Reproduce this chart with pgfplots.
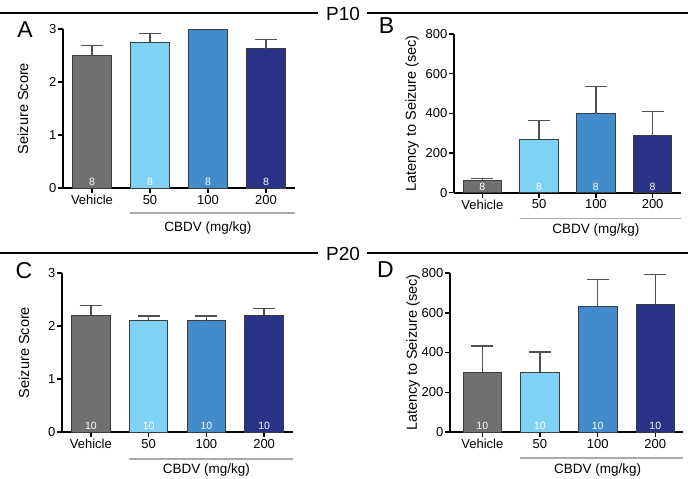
\documentclass[border=0pt]{standalone}
\usepackage{pgfplots}
\pgfplotsset{compat=1.18}
\usepackage{fontspec}
\setmainfont{Liberation Sans}
\definecolor{cveh}{RGB}{112,112,114}
\definecolor{cfifty}{RGB}{126,210,246}
\definecolor{chund}{RGB}{66,140,204}
\definecolor{ctwo}{RGB}{42,51,135}
\definecolor{errc}{RGB}{80,80,80}
\definecolor{edgec}{RGB}{60,60,60}
\definecolor{bracketc}{RGB}{170,170,170}
\pgfplotsset{
 panel/.style={
  scale only axis, axis lines=left,
  axis line style={-, line width=1.8pt, black},
  xmin=-0.5, xmax=3.5, ymin=0,
  xtick={0,1,2,3}, xticklabels={Vehicle,50,100,200},
  tick align=outside, major tick length=5pt,
  tick style={black, line width=1.5pt},
  /pgf/number format/assume math mode=true,
  ticklabel style={font=\fontsize{13}{15}\selectfont},
  yticklabel style={inner xsep=1.5pt},
  xticklabel style={inner ysep=2pt},
  clip=false,
 },
 mybar/.style={ybar, bar width=38.5pt, bar shift=0pt, draw=edgec, line width=0.8pt, fill=#1,
  error bars/y dir=plus, error bars/y explicit,
  error bars/error bar style={errc, line width=1.3pt},
  error bars/error mark options={rotate=90, errc, line width=1.3pt, mark size=11pt}},
}
\newcommand{\nlab}[1]{\pgfplotsinvokeforeach{0,...,3}{\node[white, font=\fontsize{10.5}{11}\selectfont, anchor=south, inner sep=1pt, yshift=1pt] at (axis cs:##1,0) {#1};}}
\newcommand{\cbdv}[2]{%
 \draw[bracketc, line width=1.2pt] ([yshift=-#1]axis cs:0.66,0) -- ([yshift=-#1]rel axis cs:1,0);
 \node[font=\fontsize{13.5}{15}\selectfont] at ([yshift=-#2]axis cs:2,0) {CBDV (mg/kg)};}
\begin{document}
\begin{tikzpicture}
\useasboundingbox (0,0) rectangle (688pt,-479pt);
% headers
\draw[line width=1.2pt] (0,-13pt) -- (318pt,-13pt);
\draw[line width=1.2pt] (367pt,-13pt) -- (688pt,-13pt);
\node[font=\fontsize{19}{21}\selectfont] at (343pt,-13.5pt) {P10};
\draw[line width=1.2pt] (0,-253pt) -- (318pt,-253pt);
\draw[line width=1.2pt] (367pt,-253pt) -- (688pt,-253pt);
\node[font=\fontsize{19}{21}\selectfont] at (343pt,-253.5pt) {P20};
% letters
\node[font=\fontsize{23}{25}\selectfont] at (25pt,-29.5pt) {A};
\node[font=\fontsize{23}{25}\selectfont] at (386.5pt,-26pt) {B};
\node[font=\fontsize{23}{25}\selectfont] at (24pt,-270.5pt) {C};
\node[font=\fontsize{23}{25}\selectfont] at (385.5pt,-269.5pt) {D};

% Panel A
\begin{axis}[panel, at={(63pt,-188pt)}, anchor=south west, width=232pt, height=159pt,
  ymax=3, ytick={0,1,2,3}]
\addplot[mybar=cveh] coordinates {(0,2.5) +- (0,0.19)};
\addplot[mybar=cfifty] coordinates {(1,2.75) +- (0,0.17)};
\addplot[mybar=chund, error bars/y dir=none] coordinates {(2,3.0)};
\addplot[mybar=ctwo] coordinates {(3,2.625) +- (0,0.18)};
\nlab{8}
\cbdv{25pt}{40pt}
\node[rotate=90, font=\fontsize{14.5}{16}\selectfont] at ([xshift=-40pt]rel axis cs:0,0.5) {Seizure Score};
\end{axis}

% Panel B
\begin{axis}[panel, at={(454pt,-192.7pt)}, anchor=south west, width=227pt, height=158.7pt,
  ymax=800, ytick={0,200,400,600,800}]
\addplot[mybar=cveh] coordinates {(0,62) +- (0,10)};
\addplot[mybar=cfifty] coordinates {(1,269) +- (0,94)};
\addplot[mybar=chund] coordinates {(2,398) +- (0,136)};
\addplot[mybar=ctwo] coordinates {(3,289) +- (0,119)};
\nlab{8}
\cbdv{26pt}{37.5pt}
\node[rotate=90, font=\fontsize{14.5}{16}\selectfont] at ([xshift=-42pt]rel axis cs:0,0.5) {Latency to Seizure (sec)};
\end{axis}

% Panel C
\begin{axis}[panel, at={(62pt,-432pt)}, anchor=south west, width=231pt, height=159pt,
  ymax=3, ytick={0,1,2,3}]
\addplot[mybar=cveh] coordinates {(0,2.2) +- (0,0.19)};
\addplot[mybar=cfifty] coordinates {(1,2.1) +- (0,0.09)};
\addplot[mybar=chund] coordinates {(2,2.1) +- (0,0.09)};
\addplot[mybar=ctwo] coordinates {(3,2.2) +- (0,0.13)};
\nlab{10}
\cbdv{27pt}{38pt}
\node[rotate=90, font=\fontsize{14.5}{16}\selectfont] at ([xshift=-38pt]rel axis cs:0,0.5) {Seizure Score};
\end{axis}

% Panel D
\begin{axis}[panel, at={(450pt,-432pt)}, anchor=south west, width=233pt, height=159pt,
  xmin=-0.56, xmax=3.48, ymax=800, ytick={0,200,400,600,800}]
\addplot[mybar=cveh] coordinates {(0,300) +- (0,133)};
\addplot[mybar=cfifty] coordinates {(1,300) +- (0,102)};
\addplot[mybar=chund] coordinates {(2,633) +- (0,135)};
\addplot[mybar=ctwo] coordinates {(3,643) +- (0,150)};
\nlab{10}
\cbdv{26pt}{38pt}
\node[rotate=90, font=\fontsize{14.5}{16}\selectfont] at ([xshift=-37pt]rel axis cs:0,0.5) {Latency to Seizure (sec)};
\end{axis}
\end{tikzpicture}
\end{document}
